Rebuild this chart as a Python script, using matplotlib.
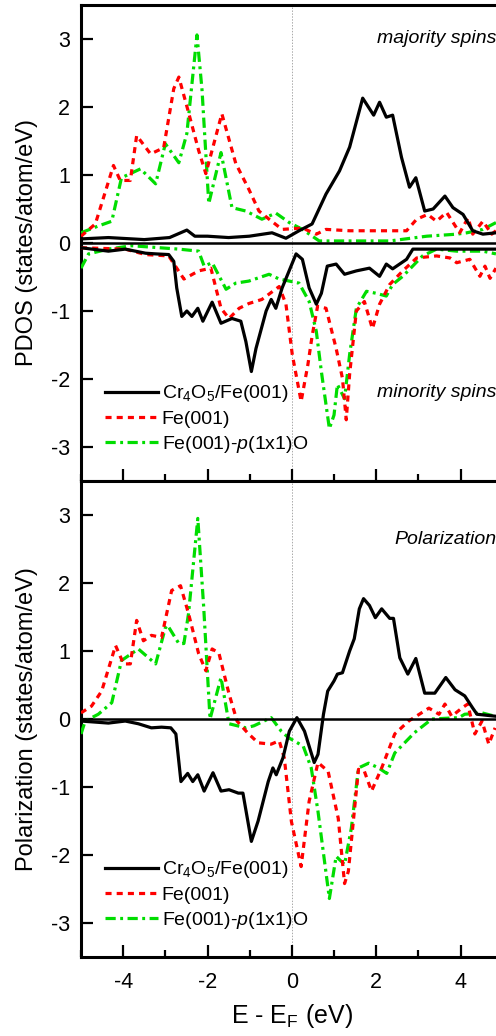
import matplotlib
matplotlib.use("Agg")
import matplotlib.pyplot as plt
from matplotlib.ticker import MultipleLocator

plt.rcParams['font.family'] = ['Liberation Sans', 'DejaVu Sans']
plt.rcParams['mathtext.fontset'] = 'custom'
plt.rcParams['mathtext.rm'] = 'Liberation Sans'
plt.rcParams['mathtext.it'] = 'Liberation Sans:italic'
plt.rcParams['axes.unicode_minus'] = False

labels = ["Cr$_4$O$_5$/Fe(001)", "Fe(001)", "Fe(001)-$\\it{p}$(1x1)O"]
colors = ["black", "red", "#00dd00"]

# majority spins (top panel, positive)
cr_up_x = [-5, -4.35, -3.5, -2.9, -2.49, -2.3, -2.0, -1.5, -1.01, -0.47, -0.14, 0.17, 0.48, 0.81, 1.13,
           1.37, 1.68, 1.94, 2.08, 2.24, 2.39, 2.60, 2.79, 2.94, 3.15, 3.35, 3.63, 3.82, 4.06, 4.29, 4.53, 4.84]
cr_up_y = [0.06, 0.08, 0.05, 0.08, 0.19, 0.1, 0.1, 0.08, 0.10, 0.15, 0.07, 0.18, 0.28, 0.72, 1.06,
           1.41, 2.13, 1.88, 2.07, 1.85, 1.88, 1.26, 0.82, 0.96, 0.47, 0.50, 0.69, 0.52, 0.42, 0.18, 0.13, 0.15]
fe_up_x = [-5.0, -4.66, -4.23, -4.07, -3.83, -3.68, -3.35, -3.04, -2.80, -2.68, -2.45, -2.21, -2.04, -1.85,
           -1.66, -1.33, -1.02, -0.78, -0.54, -0.23, 0.25, 0.58, 0.81, 1.37, 2.72, 2.96, 3.22, 3.43, 3.67,
           3.98, 4.18, 4.29, 4.53, 4.74, 4.84]
fe_up_y = [0.1, 0.28, 1.14, 0.92, 0.92, 1.58, 1.31, 1.40, 2.27, 2.44, 1.92, 1.36, 1.02, 1.46,
           1.90, 1.17, 0.79, 0.47, 0.35, 0.2, 0.22, 0.13, 0.2, 0.18, 0.18, 0.35, 0.42, 0.32, 0.45,
           0.15, 0.37, 0.13, 0.32, 0.13, 0.18]
feo_up_x = [-5.0, -4.59, -4.27, -4.04, -3.83, -3.59, -3.23, -3.0, -2.68, -2.49, -2.25, -2.13, -1.97, -1.68,
            -1.42, -1.09, -0.71, -0.38, -0.06, 0.25, 0.65, 1.37, 2.32, 3.2, 3.91, 4.15, 4.53, 4.84]
feo_up_y = [0.15, 0.25, 0.32, 0.96, 1.02, 1.09, 0.87, 1.46, 1.18, 1.61, 3.06, 2.25, 0.58, 1.33,
            0.52, 0.47, 0.35, 0.44, 0.30, 0.2, 0.03, 0.03, 0.03, 0.1, 0.13, 0.15, 0.2, 0.3]

# minority spins (top panel, negative)
cr_dn_x = [-5, -4.35, -3.95, -3.47, -3.23, -2.92, -2.8, -2.73, -2.61, -2.49, -2.37, -2.23, -2.11, -1.89,
           -1.68, -1.42, -1.21, -1.09, -0.96, -0.85, -0.61, -0.49, -0.38, -0.23, 0.1, 0.25, 0.41, 0.58,
           0.7, 0.84, 1.05, 1.25, 1.53, 1.84, 2.08, 2.24, 2.39, 2.72, 2.87, 3.43, 4.84]
cr_dn_y = [-0.07, -0.12, -0.09, -0.15, -0.16, -0.17, -0.27, -0.66, -1.08, -1.0, -1.08, -0.96, -1.15, -0.87,
           -1.18, -1.11, -1.15, -1.45, -1.89, -1.55, -1.0, -0.83, -0.96, -0.66, -0.16, -0.24, -0.66, -0.9,
           -0.74, -0.34, -0.31, -0.46, -0.41, -0.37, -0.49, -0.31, -0.38, -0.24, -0.09, -0.09, -0.09]
fe_dn_x = [-5, -3.95, -3.47, -2.92, -2.56, -2.21, -1.92, -1.68, -1.49, -1.25, -1.02, -0.71, -0.3, -0.14,
           0.01, 0.22, 0.38, 0.48, 0.61, 0.81, 1.05, 1.2, 1.29, 1.37, 1.53, 1.72, 1.91, 2.08, 2.32, 2.63,
           2.96, 3.43, 3.75, 3.91, 4.22, 4.46, 4.58, 4.7, 4.84]
fe_dn_y = [-0.07, -0.09, -0.17, -0.19, -0.53, -0.41, -0.37, -0.96, -1.11, -0.96, -0.89, -0.83, -0.64, -0.9,
           -1.64, -2.33, -1.79, -1.37, -0.93, -0.96, -1.55, -1.99, -2.6, -1.93, -1.0, -0.86, -1.26, -0.9,
           -0.61, -0.41, -0.22, -0.19, -0.22, -0.29, -0.24, -0.49, -0.34, -0.52, -0.37]
feo_dn_x = [-5, -4.82, -4.35, -3.8, -2.68, -2.21, -2.08, -1.89, -1.56, -1.33, -1.02, -0.54, -0.3, -0.06,
            0.17, 0.41, 0.58, 0.7, 0.89, 1.0, 1.08, 1.25, 1.37, 1.53, 1.77, 2.0, 2.24, 2.39, 2.63, 3.1,
            3.43, 3.91, 4.53, 4.84]
feo_dn_y = [-0.37, -0.16, -0.09, -0.04, -0.09, -0.12, -0.34, -0.29, -0.68, -0.59, -0.56, -0.46, -0.53, -0.56,
            -0.59, -0.86, -1.3, -1.89, -2.73, -2.53, -2.08, -2.29, -1.64, -0.96, -0.71, -0.74, -0.78, -0.61,
            -0.49, -0.19, -0.09, -0.12, -0.12, -0.16]

# polarization (bottom panel)
cr_pol_x = [-5, -4.35, -3.95, -3.64, -3.33, -3.09, -2.87, -2.75, -2.63, -2.47, -2.35, -2.23, -2.08, -1.87,
            -1.68, -1.49, -1.27, -1.16, -0.96, -0.8, -0.56, -0.45, -0.37, -0.21, -0.06, 0.12, 0.3, 0.53,
            0.62, 0.75, 0.85, 1.0, 1.08, 1.2, 1.37, 1.48, 1.6, 1.7, 1.84, 1.98, 2.13, 2.32, 2.41, 2.56,
            2.75, 2.94, 3.15, 3.39, 3.65, 3.87, 4.1, 4.29, 4.39, 4.84]
cr_pol_y = [-0.03, -0.06, -0.03, -0.07, -0.13, -0.12, -0.13, -0.22, -0.92, -0.8, -0.92, -0.82, -1.06, -0.79,
            -1.06, -1.04, -1.09, -1.09, -1.8, -1.5, -0.92, -0.72, -0.82, -0.57, -0.18, 0.02, -0.18, -0.64,
            -0.52, 0.07, 0.41, 0.56, 0.66, 0.68, 1.0, 1.18, 1.62, 1.77, 1.67, 1.49, 1.62, 1.48, 1.48, 0.9,
            0.66, 0.89, 0.38, 0.38, 0.61, 0.43, 0.34, 0.16, 0.07, 0.04]
fe_pol_x = [-5, -4.75, -4.51, -4.18, -3.99, -3.83, -3.68, -3.52, -3.33, -3.09, -2.85, -2.64, -2.45, -2.21,
            -2.04, -1.89, -1.73, -1.49, -1.3, -1.04, -0.8, -0.49, -0.3, -0.18, -0.01, 0.22, 0.41, 0.62,
            0.86, 1.1, 1.25, 1.34, 1.58, 1.72, 1.89, 2.13, 2.44, 2.77, 3.25, 3.49, 3.63, 3.79, 4.03, 4.17,
            4.34, 4.51, 4.67, 4.82]
fe_pol_y = [0.09, 0.19, 0.41, 1.08, 0.81, 0.81, 1.45, 1.15, 1.23, 1.2, 1.89, 1.96, 1.55, 0.96,
            0.71, 1.03, 0.97, 0.37, -0.03, -0.21, -0.35, -0.37, -0.32, -0.57, -1.51, -2.17, -1.21, -0.64,
            -0.77, -1.46, -2.42, -2.24, -0.74, -0.77, -1.06, -0.72, -0.22, -0.03, 0.16, 0.07, 0.22, 0.04, 0.16, 0.22,
            -0.22, -0.03, -0.37, -0.13]
feo_pol_x = [-5, -4.9, -4.59, -4.27, -4.04, -3.64, -3.23, -3.0, -2.95, -2.68, -2.56, -2.45, -2.23, -2.09,
             -1.94, -1.68, -1.49, -1.09, -0.9, -0.49, -0.25, -0.09, 0.27, 0.46, 0.62, 0.89, 1.05, 1.25,
             1.41, 1.58, 1.82, 2.06, 2.25, 2.44, 2.91, 3.32, 3.96, 4.1, 4.51, 4.82]
feo_pol_y = [-0.22, -0.03, 0.07, 0.24, 0.86, 1.03, 0.81, 1.34, 1.38, 1.11, 1.11, 1.55, 2.95, 1.64,
             0.0, 0.61, -0.07, -0.13, -0.1, 0.02, -0.18, -0.27, -0.4, -0.72, -1.36, -2.64, -2.02, -2.14,
             -1.61, -0.72, -0.65, -0.72, -0.8, -0.5, -0.2, 0.0, 0.02, 0.07, 0.09, 0.04]

W, H = 496, 1036
fig = plt.figure(figsize=(W / 100, H / 100), dpi=100)
ax1 = fig.add_axes([81 / W, 1 - 481 / H, 421.7 / W, 476 / H])
ax2 = fig.add_axes([81 / W, 1 - 957 / H, 421.7 / W, 476 / H])

styles = [dict(ls='-', lw=2.3), dict(ls=(0, (1.9, 1.6)), lw=2.3), dict(ls=(0, (3.2, 1.4, 0.9, 1.4)), lw=2.3)]


def style_axes(ax):
    ax.set_xlim(-5, 5)
    ax.set_ylim(-3.5, 3.5)
    ax.xaxis.set_major_locator(MultipleLocator(2))
    ax.xaxis.set_minor_locator(MultipleLocator(1))
    ax.yaxis.set_major_locator(MultipleLocator(1))
    ax.tick_params(axis='both', which='major', direction='in', length=8.5, width=1.6, labelsize=15.5)
    ax.tick_params(axis='x', which='minor', direction='in', length=5, width=1.6)
    ax.tick_params(axis='y', which='minor', left=False)
    ax.tick_params(axis='y', pad=8)
    ax.tick_params(axis='x', pad=11)
    for s in ax.spines.values():
        s.set_linewidth(2.2)
    ax.axhline(0, color='black', lw=1.8, zorder=4)
    ax.axvline(0, color='#aaaaaa', lw=0.7, ls=(0, (1.5, 1.5)), zorder=0)


style_axes(ax1)
style_axes(ax2)

up = [(cr_up_x, cr_up_y), (fe_up_x, fe_up_y), (feo_up_x, feo_up_y)]
dn = [(cr_dn_x, cr_dn_y), (fe_dn_x, fe_dn_y), (feo_dn_x, feo_dn_y)]
pol = [(cr_pol_x, cr_pol_y), (fe_pol_x, fe_pol_y), (feo_pol_x, feo_pol_y)]

for i in [2, 1, 0]:
    ax1.plot(up[i][0], up[i][1], color=colors[i], zorder=3 - i * 0.1, **styles[i])
    ax1.plot(dn[i][0], dn[i][1], color=colors[i], zorder=3 - i * 0.1, **styles[i])
    ax2.plot(pol[i][0], pol[i][1], color=colors[i], zorder=3 - i * 0.1, **styles[i])

for ax in (ax1, ax2):
    hs = [plt.Line2D([], [], color=colors[i], **styles[i]) for i in range(3)]
    ax.legend(hs, labels, loc='center left', bbox_to_anchor=(0.035, 0.13), frameon=False,
              fontsize=14, handlelength=2.7, handletextpad=0.2, labelspacing=0.3, borderpad=0)

ax1.tick_params(axis='x', labelbottom=False)
ax1.text(0.985, 0.93, "majority spins", transform=ax1.transAxes, ha='right', va='center',
         style='italic', fontsize=14)
ax1.text(0.985, 0.186, "minority spins", transform=ax1.transAxes, ha='right', va='center',
         style='italic', fontsize=14)
ax2.text(0.985, 0.878, "Polarization", transform=ax2.transAxes, ha='right', va='center',
         style='italic', fontsize=14)

ax1.set_ylabel("PDOS (states/atom/eV)", fontsize=17, labelpad=9)
ax2.set_ylabel("Polarization (states/atom/eV)", fontsize=17, labelpad=9)
ax2.set_xlabel("E - E$_\\mathrm{F}$ (eV)", fontsize=18, labelpad=6)

fig.savefig("out.png", dpi=100)
